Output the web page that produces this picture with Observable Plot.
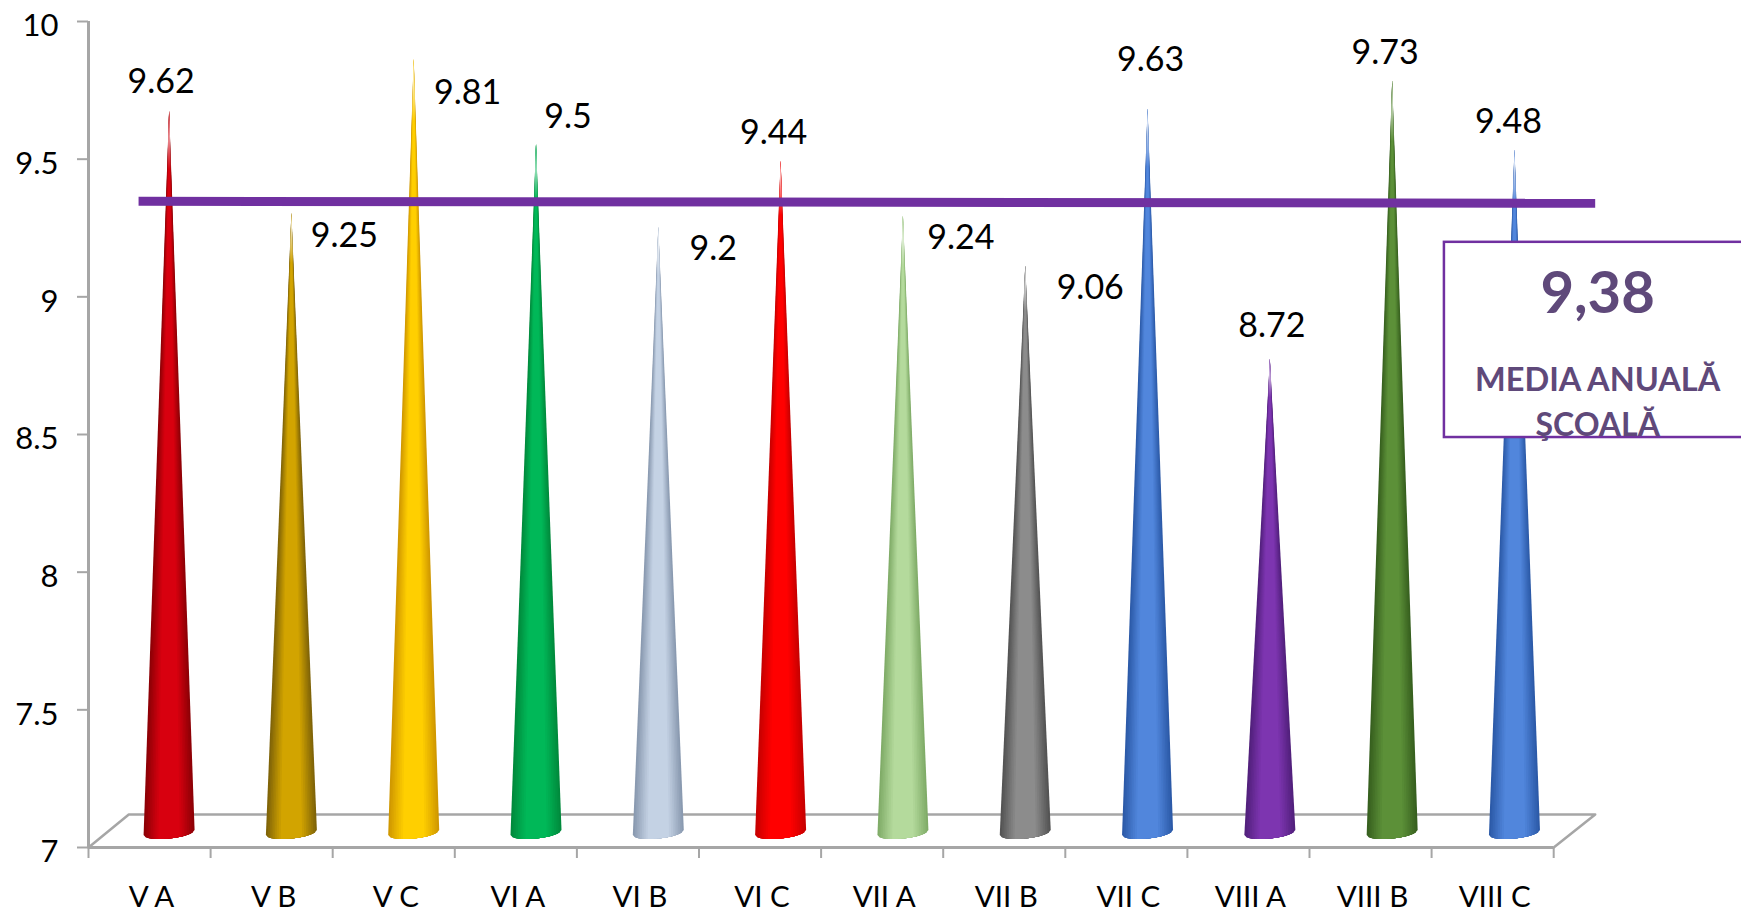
<!DOCTYPE html>
<html><head><meta charset="utf-8">
<script src="https://cdn.jsdelivr.net/npm/d3@7"></script>
<script src="https://cdn.jsdelivr.net/npm/@observablehq/plot@0.6"></script>
<style>html,body{margin:0;padding:0;background:#fff;overflow:hidden}</style>
</head><body><div id="chart"></div>
<script>
const categories = ["V A","V B","V C","VI A","VI B","VI C","VII A","VII B","VII C","VIII A","VIII B","VIII C"];
const values = [9.62,9.25,9.81,9.5,9.2,9.44,9.24,9.06,9.63,8.72,9.73,9.48];
const edgeColors = ["#8e0006","#806408","#d09800","#008a3c","#8a9ab0","#c80000","#80ac68","#545454","#2c5aa8","#52207c","#37601f","#2c5aa8"];
const midColors = ["#d8000f","#d2a400","#ffcf00","#00b858","#c4d2e4","#ff0000","#b4da9c","#8c8c8c","#5186dc","#7d35b0","#5c9038","#5186dc"];
const labelDx = [-8,53,54,32,55,-7,58,65,3,2,-7,-6];
const labelDy = [-44,8,19,-42,7,-43,7,8,-63,-48,-43,-43];
const yTicks = [7,7.5,8,8.5,9,9.5,10];
const meanLineX = [0.41,12.34];
const meanLineY = [9.347,9.34];
const floorBack = [[0,7],[0.33,7.12],[12.34,7.12],[12,7]];
const shadeSteps = [1,0.93,0.86,0.79,0.72,0.65,0.58,0.5,0.42];

const pxX = 122.1, pxY = 275.3;
const coneX = i => 0.66 + i*1.0017;
function coneShape(i, v, f){
  const cx = coneX(i), pts = [{x:cx, y:v+0.055}];
  for(let k=0;k<=24;k++){
    const s = (1-2*k/24)*f;
    pts.push({x: cx + s*25.5/pxX, y: 7 + (15 + 2.5*s - 6*Math.sqrt(Math.max(0,1-s*s)))/pxY});
  }
  return pts;
}
const defs = () => {
  const g = d3.create("svg:defs");
  const f = g.append("linearGradient").attr("id","fade").attr("x1",0).attr("x2",0).attr("y1",0).attr("y2",1);
  [[0,0.92],[0.035,0.6],[0.08,0]].forEach(([o,a])=>f.append("stop").attr("offset",o).attr("stop-color","#fff").attr("stop-opacity",a));
  return g.node();
};
const gray = "#a6a6a6", font = "Lato, sans-serif", purple = "#7030a0", violet = "#5f497a";

const plot = Plot.plot({
  width:1741, height:914, marginLeft:88, marginRight:0, marginTop:21, marginBottom:67,
  style:{fontFamily:font, background:"#fff", color:"#000", overflow:"hidden"},
  x:{domain:[0,1653/pxX], axis:null},
  y:{domain:[7,10], axis:null},
  marks:[
    defs,
    Plot.line(floorBack,{x:d=>d[0],y:d=>d[1],stroke:gray,strokeWidth:2.5}),
    Plot.ruleX([0],{y1:7,y2:10,stroke:gray,strokeWidth:3}),
    Plot.ruleY([7],{x1:0,x2:12,stroke:gray,strokeWidth:3}),
    Plot.axisY({ticks:yTicks,tickSize:11,tickFormat:()=>"",stroke:gray,strokeWidth:2,label:null}),
    Plot.axisX({ticks:d3.range(13),tickSize:11,tickFormat:()=>"",stroke:gray,strokeWidth:2,label:null}),
    Plot.text(yTicks,{x:()=>0,y:d=>d,text:d=>String(d),dx:-30,dy:5,textAnchor:"end",fontSize:31,fill:"#000"}),
    Plot.text(categories,{x:(d,i)=>i+0.5,y:()=>7,text:d=>d,dx:2,dy:50,fontSize:29.5,fill:"#000"}),
    ...values.flatMap((v,i)=>{
      const mix = d3.interpolateRgb(edgeColors[i],midColors[i]);
      const layers = shadeSteps.map((f,k)=>Plot.line(coneShape(i,v,f),{x:"x",y:"y",fill:mix(k/(shadeSteps.length-1)),stroke:"none",curve:"linear"}));
      return [...layers, Plot.line(coneShape(i,v,1),{x:"x",y:"y",fill:"url(#fade)",stroke:"none",curve:"linear"})];
    }),
    Plot.line(meanLineX.map((x,i)=>({x,y:meanLineY[i]})),{x:"x",y:"y",stroke:purple,strokeWidth:9,strokeLinecap:"butt"}),
    Plot.rect([{}],{x1:()=>11.105,x2:()=>13.7,y1:()=>8.489,y2:()=>9.198,fill:"#fff",stroke:purple,strokeWidth:2.5}),
    Plot.text(["9,38"],{x:()=>12.36,y:()=>9.008,text:d=>d,fontSize:58,fontWeight:700,fill:violet}),
    Plot.text(["MEDIA ANUALĂ"],{x:()=>12.36,y:()=>8.695,text:d=>d,fontSize:32.5,fontWeight:700,fill:violet}),
    Plot.text(["ŞCOALĂ"],{x:()=>12.36,y:()=>8.533,text:d=>d,fontSize:32,fontWeight:700,fill:violet}),
    ...values.map((v,i)=>Plot.text([v],{x:()=>coneX(i),y:d=>d,text:d=>String(d),dx:labelDx[i],dy:labelDy[i],fontSize:34,fill:"#000"}))
  ]
});
document.getElementById("chart").appendChild(plot);
</script></body></html>
